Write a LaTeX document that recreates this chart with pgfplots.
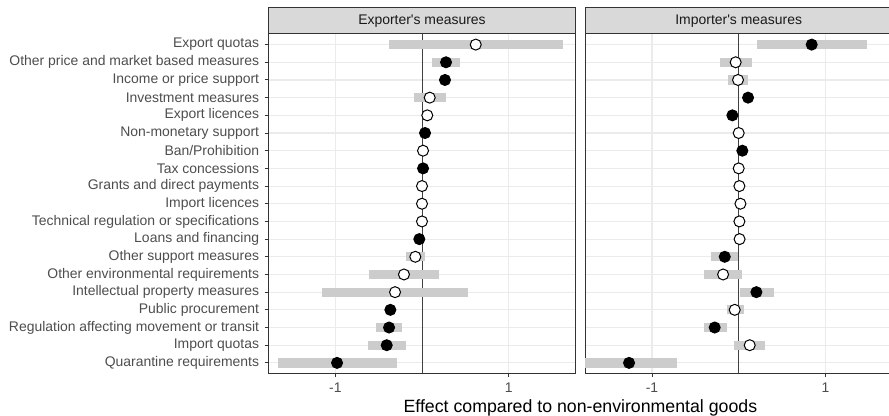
\documentclass[border=0pt]{standalone}
\usepackage{pgfplots}
\pgfplotsset{compat=1.18}
\usepackage{pgfplotstable}
\usepackage{fontspec}
\setmainfont{Liberation Sans}

\definecolor{gridc}{HTML}{EBEBEB}
\definecolor{cic}{HTML}{CCCCCC}
\definecolor{stripc}{HTML}{D9D9D9}
\definecolor{framec}{HTML}{333333}
\definecolor{tickc}{HTML}{4D4D4D}

% y: 1 = bottom row (Quarantine requirements), 19 = top row (Export quotas)
% sig: f = filled point, o = open point
\pgfplotstableread{
y  est     lo      hi     sig
19  0.620 -0.380  1.630  o
18  0.277  0.115  0.435  f
17  0.265  0.240  0.290  f
16  0.089 -0.092  0.277  o
15  0.061  0.020  0.100  o
14  0.035  0.035  0.035  f
13  0.012  0.012  0.012  o
12  0.012  0.012  0.012  f
11  0.000  0.000  0.000  o
10  0.000  0.000  0.000  o
9   0.000  0.000  0.000  o
8  -0.031 -0.031 -0.031  f
7  -0.077 -0.190  0.035  o
6  -0.208 -0.607  0.196  o
5  -0.311 -1.150  0.527  o
4  -0.365 -0.400 -0.330  f
3  -0.380 -0.534 -0.227  f
2  -0.407 -0.626 -0.188  f
1  -0.980 -1.664 -0.292  f
}\exporter

\pgfplotstableread{
y  est     lo      hi     sig
19  0.842  0.208  1.476  f
18 -0.035 -0.219  0.154  o
17 -0.008 -0.119  0.112  o
16  0.108  0.108  0.108  f
15 -0.073 -0.073 -0.073  f
14  0.000  0.000  0.000  o
13  0.042  0.042  0.042  f
12  0.000  0.000  0.000  o
11  0.008  0.008  0.008  o
10  0.020  0.020  0.020  o
9   0.008  0.008  0.008  o
8   0.010  0.010  0.010  o
7  -0.161 -0.319 -0.008  f
6  -0.180 -0.396  0.035  o
5   0.204  0.012  0.408  f
4  -0.046 -0.138  0.065  o
3  -0.277 -0.404 -0.138  f
2   0.127 -0.058  0.308  o
1  -1.265 -1.900 -0.715  f
}\importer

\pgfplotsset{
  facet/.style={
    scale only axis, width=307.4bp, height=339.5bp,
    xmin=-1.773, xmax=1.773, ymin=0.4, ymax=19.6,
    xtick={-1,1}, xticklabels={-1,1}, ytick={1,...,19},
    grid=major, major grid style={gridc, line width=1.1bp},
    axis line style={framec, line width=1bp},
    tick align=outside, major tick length=3.7bp,
    tick style={framec, line width=1bp},
    xtick pos=bottom, ytick pos=left,
    ticklabel style={font=\fontsize{14}{14}\selectfont, text=tickc},
    xticklabel style={inner sep=0pt, yshift=-5.3bp},
    yticklabel style={inner sep=0pt, xshift=-5.3bp},
  },
  cibars/.style={only marks, mark=none,
    error bars/.cd, x dir=both, x explicit, error mark=none,
    error bar style={line width=9.3bp, cic}},
  pts/.style={scatter, only marks, scatter src=explicit symbolic,
    mark size=5.5bp, line width=1bp,
    scatter/classes={f={mark=*, draw=black, fill=black},
                     o={mark=*, draw=black, fill=white}}},
}

\begin{document}
\begin{tikzpicture}
\begin{axis}[facet, anchor=south west, at={(268.3bp,42.5bp)},
  yticklabels={Quarantine requirements, Import quotas,
    Regulation affecting movement or transit, Public procurement,
    Intellectual property measures, Other environmental requirements,
    Other support measures, Loans and financing,
    Technical regulation or specifications, Import licences,
    Grants and direct payments, Tax concessions, Ban/Prohibition,
    Non-monetary support, Export licences, Investment measures,
    Income or price support, Other price and market based measures,
    Export quotas}]
\addplot[black!75, line width=0.9bp] coordinates {(0,0.4) (0,19.6)};
\addplot[cibars] table[x=est, y=y,
  x error plus expr=\thisrow{hi}-\thisrow{est},
  x error minus expr=\thisrow{est}-\thisrow{lo}] {\exporter};
\addplot[pts] table[x=est, y=y, meta=sig] {\exporter};
\end{axis}

\begin{axis}[facet, anchor=south west, at={(585bp,42.5bp)},
  yticklabels={}, ytick style={draw=none}]
\addplot[black!75, line width=0.9bp] coordinates {(0,0.4) (0,19.6)};
\addplot[cibars] table[x=est, y=y,
  x error plus expr=\thisrow{hi}-\thisrow{est},
  x error minus expr=\thisrow{est}-\thisrow{lo}] {\importer};
\addplot[pts] table[x=est, y=y, meta=sig] {\importer};
\end{axis}

% facet strips
\draw[fill=stripc, draw=framec, line width=1bp] (268.3bp,382bp) rectangle (575.7bp,408.7bp);
\draw[fill=stripc, draw=framec, line width=1bp] (585bp,382bp) rectangle (892.4bp,408.7bp);
\node[font=\fontsize{14}{14}\selectfont, text=black!90] at (422bp,395.3bp) {Exporter\textquotesingle s measures};
\node[font=\fontsize{14}{14}\selectfont, text=black!90] at (738.7bp,395.3bp) {Importer\textquotesingle s measures};
\node[font=\fontsize{17.8}{17.8}\selectfont, anchor=base] at (580.4bp,3.7bp) {Effect compared to non-environmental goods};

\pgfresetboundingbox
\useasboundingbox (0,0) rectangle (889bp,416bp);
\end{tikzpicture}
\end{document}
